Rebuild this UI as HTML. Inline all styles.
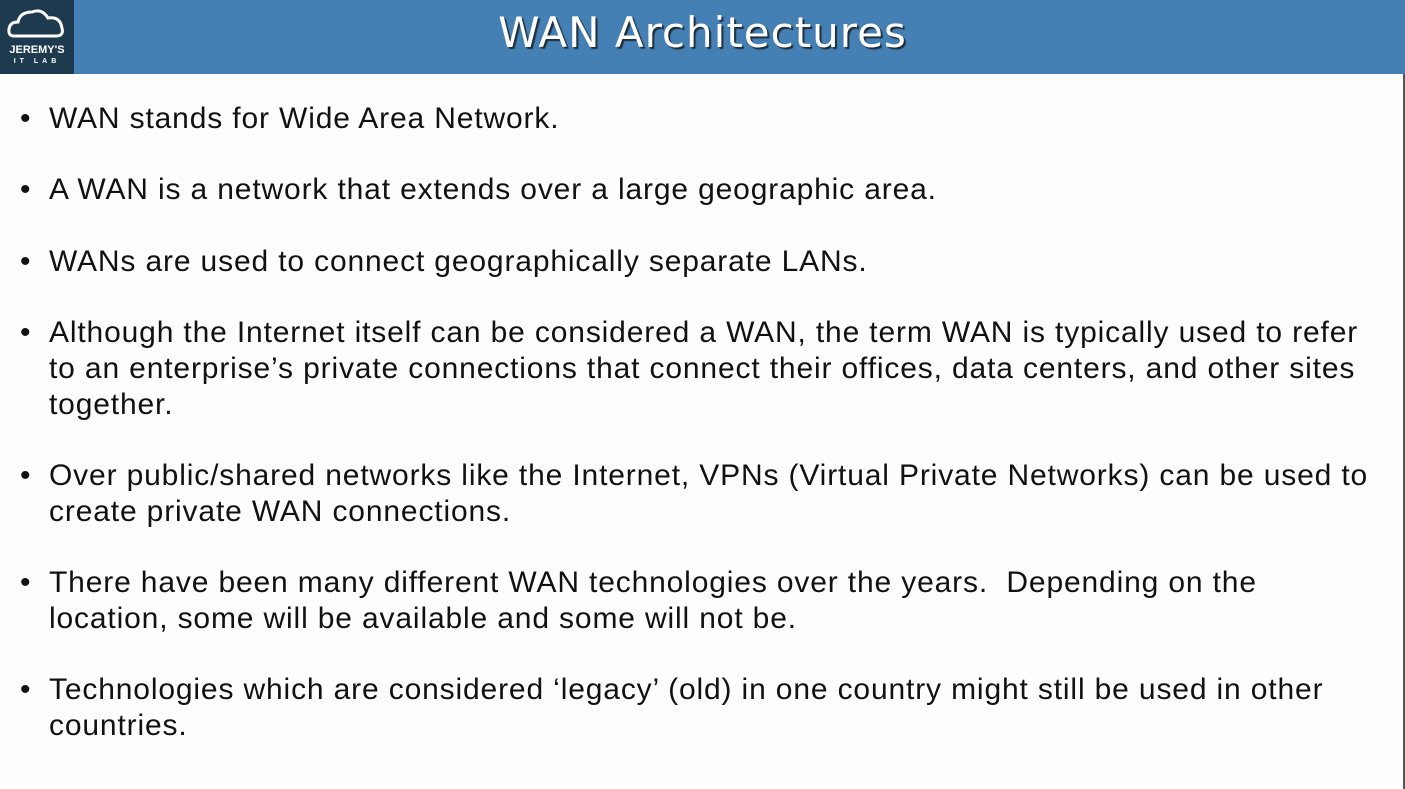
<!DOCTYPE html>
<html><head><meta charset="utf-8"><style>
html,body{margin:0;padding:0;}
body{width:1405px;height:789px;position:relative;background:#fdfdfd;overflow:hidden;font-family:"Liberation Sans",sans-serif;}
.hdr{position:absolute;left:0;top:0;width:1405px;height:74px;background:#4580b4;}
.logo{position:absolute;left:0;top:0;width:74px;height:74px;background:#1d3a4f;}
.title{position:absolute;left:0;top:8px;width:1405px;text-align:center;color:#fff;font-family:"DejaVu Sans",sans-serif;font-size:42px;letter-spacing:1px;text-shadow:2px 2px 1px #1d2d3a;}
.rb{position:absolute;right:0;top:74px;width:2px;height:715px;background:#555;}
.p{position:absolute;left:49px;font-size:30px;letter-spacing:0.85px;line-height:36px;color:#111;white-space:nowrap;}
.p:before{content:"•";position:absolute;left:-29px;}
</style></head><body>
<div class="hdr"></div>
<div class="logo">
<svg width="74" height="74" viewBox="0 0 74 74"><path d="M14 36 Q8 36 9 29 Q10 22 18 22 Q20 12 32 12 Q42 8 48 18 Q60 16 62 28 Q64 36 56 36 Z" fill="none" stroke="#fff" stroke-width="3"/>
<text x="37" y="53" fill="#fff" font-family="Liberation Sans" font-weight="bold" font-size="11" text-anchor="middle">JEREMY'S</text>
<text x="37" y="63" fill="#fff" font-family="Liberation Sans" font-weight="bold" font-size="7" letter-spacing="4" text-anchor="middle">IT LAB</text></svg>
</div>
<div class="title">WAN Architectures</div>
<div class="rb"></div>
<div class="p" style="top:101px">WAN stands for Wide Area Network.</div>
<div class="p" style="top:172px">A WAN is a network that extends over a large geographic area.</div>
<div class="p" style="top:244px">WANs are used to connect geographically separate LANs.</div>
<div class="p" style="top:315px">Although the Internet itself can be considered a WAN, the term WAN is typically used to refer<br>to an enterprise’s private connections that connect their offices, data centers, and other sites<br>together.</div>
<div class="p" style="top:458px">Over public/shared networks like the Internet, VPNs (Virtual Private Networks) can be used to<br>create private WAN connections.</div>
<div class="p" style="top:565px">There have been many different WAN technologies over the years.&nbsp; Depending on the<br>location, some will be available and some will not be.</div>
<div class="p" style="top:672px">Technologies which are considered ‘legacy’ (old) in one country might still be used in other<br>countries.</div>
</body></html>
